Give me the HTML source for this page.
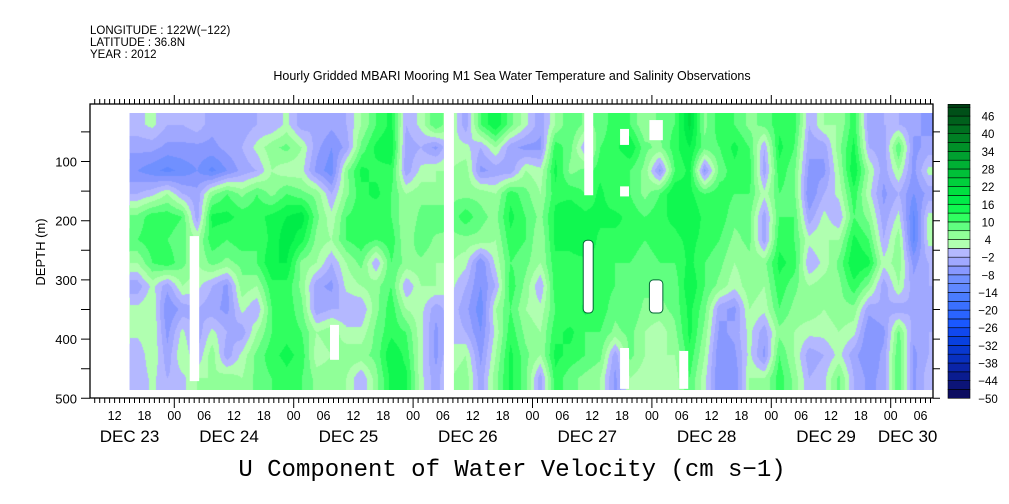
<!DOCTYPE html>
<html><head><meta charset="utf-8"><style>
html,body{margin:0;padding:0;background:#fff;}
svg{display:block;font-family:"Liberation Sans",sans-serif;}
canvas{display:block;}
</style></head><body>
<svg id="chart" width="1009" height="504" viewBox="0 0 1009 504">
<defs>
<clipPath id="dataClip"><rect x="129.5" y="113" width="804" height="277"/></clipPath>
</defs>
<g font-size="11.5" fill="#000">
<text x="90" y="34">LONGITUDE : 122W(−122)</text>
<text x="90" y="46">LATITUDE : 36.8N</text>
<text x="90" y="58">YEAR : 2012</text>
</g>
<text x="512" y="80" text-anchor="middle" font-size="12.5">Hourly Gridded MBARI Mooring M1 Sea Water Temperature and Salinity Observations</text>
<g id="heat" clip-path="url(#dataClip)">
<g id="cells"></g>
<foreignObject id="fo" x="129.5" y="113" width="804" height="277"><canvas xmlns="http://www.w3.org/1999/xhtml" id="cv" width="804" height="277" style="width:804px;height:277px"></canvas></foreignObject>
</g>
<g id="gaps"></g>
<g id="axes"></g>
<g id="cbar"></g>
<text transform="translate(45,252) rotate(-90)" text-anchor="middle" font-size="13">DEPTH (m)</text>
<text x="512" y="476" text-anchor="middle" font-family="Liberation Mono, monospace" font-size="24">U Component of Water Velocity (cm s−1)</text>
</svg>
<script>
const startHour = 15;
const hourStep = 3;
const depthTop = 18;
const depthStep = 39;
const uValues = [
[0,-4,-8,-2,8,10,4,-4,2,2,-2,-2],
[2,-4,-10,0,12,12,10,2,4,4,4,2],
[-2,-6,-12,4,12,10,12,-4,-8,-6,-4,-2],
[-2,-6,-10,-2,10,8,8,4,-4,2,4,0],
[0,-6,-8,-4,-4,4,4,2,-2,-4,-2,4],
[-4,-6,-12,6,14,12,8,-2,-4,2,6,4],
[-2,-4,-8,10,14,10,6,-6,-6,-2,-4,6],
[-4,-2,-4,6,12,12,8,6,2,-4,2,4],
[-2,2,-2,10,12,10,10,4,-2,4,8,8],
[-2,6,4,6,14,14,16,12,10,10,12,10],
[2,8,2,10,16,18,16,12,12,12,14,12],
[-4,4,2,8,18,14,6,6,8,10,12,10],
[-2,-4,-6,6,8,6,4,-4,-4,4,2,6],
[-4,-8,-10,-2,2,4,-2,-6,-2,6,4,6],
[-2,-4,6,6,10,10,4,2,-2,2,6,4],
[4,8,14,12,12,12,8,4,-2,2,6,-2],
[10,14,12,14,10,10,-2,6,6,8,8,6],
[14,16,12,10,10,12,10,10,12,12,16,14],
[-2,-4,-4,4,4,4,6,-2,4,10,12,14],
[2,-2,2,6,8,10,6,4,2,2,2,2],
[10,-6,4,4,10,6,4,4,-4,-6,-6,-4],
[4,2,4,6,8,6,4,2,0,0,2,4],
[-4,2,6,6,12,6,2,-2,-4,-2,4,6],
[10,-2,-6,6,8,6,-8,-8,-10,-8,-6,-4],
[16,4,-4,4,6,4,2,-2,4,2,4,6],
[8,-4,-4,12,14,12,10,12,10,12,14,14],
[2,-6,4,8,10,10,8,6,4,6,8,8],
[-4,-6,2,4,6,4,4,-2,2,4,4,-4],
[4,12,14,12,14,14,12,12,10,12,14,12],
[10,8,6,12,16,14,12,10,10,14,12,8],
[6,-2,8,10,14,16,12,12,14,10,10,6],
[8,10,12,14,14,12,12,12,12,10,8,4],
[12,12,10,10,14,12,10,10,8,6,-4,-6],
[10,16,10,10,12,12,10,8,10,8,8,4],
[4,8,6,6,10,10,8,8,6,4,4,2],
[8,6,-6,10,12,12,10,8,6,2,4,4],
[10,12,10,16,14,12,10,8,8,6,4,2],
[20,16,14,14,16,14,14,16,14,14,12,10],
[6,8,-6,10,12,12,10,10,8,6,4,2],
[12,10,8,12,12,10,8,6,-4,-6,-8,-8],
[10,14,12,10,8,6,4,2,-6,-4,-6,-8],
[6,10,12,10,8,8,6,6,4,2,2,4],
[8,-2,-4,2,-4,-4,6,4,2,-4,-6,4],
[12,14,12,10,10,12,14,12,10,6,10,12],
[12,10,8,8,10,10,12,8,6,4,4,6],
[-2,-4,-6,-8,-4,2,-2,4,6,2,-4,-2],
[4,-4,-6,-2,2,4,2,6,4,2,-2,0],
[4,6,4,2,-2,4,8,6,6,4,2,8],
[12,14,16,12,10,14,16,12,6,2,-4,-2],
[-4,-2,4,2,6,10,14,6,-4,-8,-8,-6],
[-2,-4,-4,-6,-4,-2,2,-4,-2,-6,-4,-4],
[-2,10,4,-2,2,6,6,4,-4,8,10,10],
[-4,-6,-6,-8,-12,-12,-6,-4,-2,-4,-6,-6],
[-6,-4,2,-4,2,2,-2,-2,-4,-2,-2,0]
];
// missing-data regions: [hourStart, hourEnd] and [depthStart, depthEnd]
const gapHours = [[27.1,29.0],[55.3,57.1],[78.2,80.2],[106.4,108.2],[106.2,108.2],[113.6,115.4],[113.6,115.4],[119.5,122.2],[119.5,122.2],[113.6,115.4],[125.5,127.3]];
const gapDepths = [[226,471],[376,435],[0,500],[18,157],[233,356],[45,72],[142,159],[30,64],[300,356],[415,484],[420,484]];
const gapRounded = [false,false,false,false,true,false,false,false,true,false,false];
const levelColors = ["#0c0c60","#0c1478","#0a1c90","#0a24a8","#0830c0","#0838d0","#0840e0","#1048f0","#1a58ff","#2a64ff","#3a70ff","#4a7cff","#6088ff","#7090ff","#8898ff","#a0a8ff","#b4b8ff","#b0ffb0","#90ff98","#60ff80","#30ff60","#10f850","#00ec48","#00e040","#00d03c","#00c038","#00b034","#00a030","#009028","#008024","#007020","#00601c","#005018","#004014"];
const cbarTicks = [46,40,34,28,22,16,10,4,-2,-8,-14,-20,-26,-32,-38,-44,-50];
const depthTicks = [100,200,300,400,500];
const hourLabels = ["00","06","12","18"];
const dateLabels = ["DEC 23","DEC 24","DEC 25","DEC 26","DEC 27","DEC 28","DEC 29","DEC 30"];
const dateHours = [15,35,59,83,107,131,155,171.4];

const NS="http://www.w3.org/2000/svg";
function xOf(h){return 54.9 + h*4.975;}
function yOf(d){return 102.3 + d*0.592;}
function hOfX(x){return (x-54.9)/4.975;}
function dOfY(y){return (y-102.3)/0.592;}
function cbY(v){return 398.3 - (v+50)*2.94;}
function levelIndex(v){let i=Math.floor((v+50)/3);return Math.max(0,Math.min(levelColors.length-1,i));}
function colorOf(v){return levelColors[levelIndex(v)];}
function mk(tag,attrs,parent){const e=document.createElementNS(NS,tag);for(const k in attrs)e.setAttribute(k,attrs[k]);parent.appendChild(e);return e;}

// block cells (underlying marks)
const cells=document.getElementById('cells');
uValues.forEach((col,i)=>{
  col.forEach((v,j)=>{
    const x0=xOf(startHour+i*hourStep), x1=xOf(startHour+(i+1)*hourStep);
    const y0=yOf(depthTop+j*depthStep), y1=yOf(depthTop+(j+1)*depthStep);
    const r=mk('rect',{x:x0,y:y0,width:x1-x0+0.5,height:y1-y0+0.5,fill:colorOf(v)},cells);
    
    
  });
});
// smooth shaded rendering of the same grid (bilinear between cell centres, quantised to colour levels)
(function(){
  const cv=document.getElementById('cv');
  
  
  const ctx=cv.getContext('2d');
  const W=cv.width,H=cv.height,ox=129.5,oy=113;
  const img=ctx.createImageData(W,H);
  const rgb=levelColors.map(c=>[parseInt(c.substr(1,2),16),parseInt(c.substr(3,2),16),parseInt(c.substr(5,2),16)]);
  const nc=uValues.length,nr=uValues[0].length;
  for(let py=0;py<H;py++){
    let fj=(dOfY(oy+py+0.5)-depthTop)/depthStep-0.5;
    fj=Math.max(0,Math.min(nr-1,fj));const j0=Math.floor(Math.min(fj,nr-1.001)),tj=fj-j0;
    for(let px=0;px<W;px++){
      let fi=(hOfX(ox+px+0.5)-startHour)/hourStep-0.5;
      fi=Math.max(0,Math.min(nc-1,fi));const i0=Math.floor(Math.min(fi,nc-1.001)),ti=fi-i0;
      const a=uValues[i0][j0],b=uValues[i0+1][j0],c=uValues[i0][j0+1],d=uValues[i0+1][j0+1];
      const v=(a*(1-ti)+b*ti)*(1-tj)+(c*(1-ti)+d*ti)*tj;
      const col=rgb[levelIndex(v)];const k=(py*W+px)*4;
      img.data[k]=col[0];img.data[k+1]=col[1];img.data[k+2]=col[2];img.data[k+3]=255;
    }
  }
  ctx.putImageData(img,0,0);
})();

const gaps=document.getElementById('gaps');
gapHours.forEach((g,i)=>{
  const d=gapDepths[i];
  const y0=Math.max(113,yOf(d[0])), y1=Math.min(390,yOf(d[1]));
  const attrs={x:xOf(g[0]),y:y0,width:xOf(g[1])-xOf(g[0]),height:y1-y0,fill:'#fff'};
  if(gapRounded[i]){attrs.rx=4;attrs.stroke='#063';attrs['stroke-width']=1;}
  const r=mk('rect',attrs,gaps);
  
  
});

const ax=document.getElementById('axes');
const L=90,R=933,T=104,B=398;
const frame=mk('rect',{x:L,y:T,width:R-L,height:B-T,fill:'none',stroke:'#000','stroke-width':1.3},ax);


let p='';
for(let h=8;xOf(h)<R;h++){
  const x=xOf(h).toFixed(1);
  const major=(h%24===0);
  p+=`M${x} ${T}V${T-(major?9:5)}M${x} ${B}V${B+(major?10:5)}`;
}
for(let d=50;d<=500;d+=50){const y=yOf(d).toFixed(1);p+=`M${L} ${y}H${L-9}M${R} ${y}H${R+7}`;}
const ticks=mk('path',{d:p,stroke:'#000','stroke-width':1,fill:'none'},ax);


depthTicks.forEach(d=>{
  const t=mk('text',{x:L-13,y:yOf(d)+5,'text-anchor':'end','font-size':13},ax);
  t.textContent=d;
  
  
});
for(let h=12;h<=174;h+=6){
  const t=mk('text',{x:xOf(h),y:420,'text-anchor':'middle','font-size':12.5},ax);
  t.textContent=hourLabels[(h/6)%4];
  
  
}
dateLabels.forEach((s,i)=>{
  const t=mk('text',{x:xOf(dateHours[i]),y:442,'text-anchor':'middle','font-size':17},ax);
  t.textContent=s;
  
  
});

const cb=document.getElementById('cbar');
levelColors.forEach((c,i)=>{
  const v0=-50+i*3, v1=Math.min(50,v0+3);
  const r=mk('rect',{x:948,y:cbY(v1),width:22,height:cbY(v0)-cbY(v1),fill:c,stroke:'#000','stroke-width':0.6},cb);
  
  
});
cbarTicks.forEach(v=>{
  const t=mk('text',{x:988,y:cbY(v)+4.5,'text-anchor':'middle','font-size':11.5},cb);
  t.textContent=String(v).replace('-','−');
  
  
});
</script>
</body></html>
